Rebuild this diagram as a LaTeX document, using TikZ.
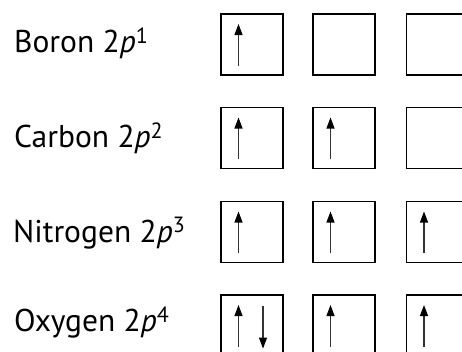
\documentclass[tikz,border=0pt]{standalone}
\usepackage{fontspec}
\setmainfont{PT Sans}
\usetikzlibrary{arrows.meta}
\begin{document}
\begin{tikzpicture}[x=1pt,y=-1pt,
  orb/.style={draw, line width=1.6pt, minimum width=62pt, minimum height=61pt, inner sep=0pt, anchor=north west},
  lbl/.style={anchor=base west, inner sep=0pt, font=\fontsize{31.5}{32}\selectfont},
  spin/.style={line width=1.1pt, draw=black!80, -{Triangle[length=11pt,width=8pt,color=black]}}]
\clip (0,0) rectangle (462,351);
% labels
\node[lbl] (lB) at (14,52.7) {Boron 2\textit{p}\textsuperscript{1}};
\node[lbl] (lC) at (14,147.3) {Carbon 2\textit{p}\textsuperscript{2}};
\node[lbl] (lN) at (13,242) {Nitrogen 2\textit{p}\textsuperscript{3}};
\node[lbl] (lO) at (14,331.5) {Oxygen 2\textit{p}\textsuperscript{4}};
% boxes
\foreach \r/\y in {1/13,2/106.5,3/200.5,4/294}{
  \node[orb] (b\r1) at (220,\y) {};
  \node[orb] (b\r2) at (312,\y) {};
  \node[orb] (b\r3) at (405.5,\y) {};
}
% up spins
\foreach \b in {b11,b21,b22,b31,b32,b33,b41,b42,b43}{
  \draw[spin] ([xshift=18.5pt,yshift=10pt]\b.south west) -- ([xshift=18.5pt,yshift=-11pt]\b.north west);
}
% down spin
\draw[spin] ([xshift=43pt,yshift=-12pt]b41.north west) -- ([xshift=43pt,yshift=8pt]b41.south west);
\end{tikzpicture}
\end{document}
